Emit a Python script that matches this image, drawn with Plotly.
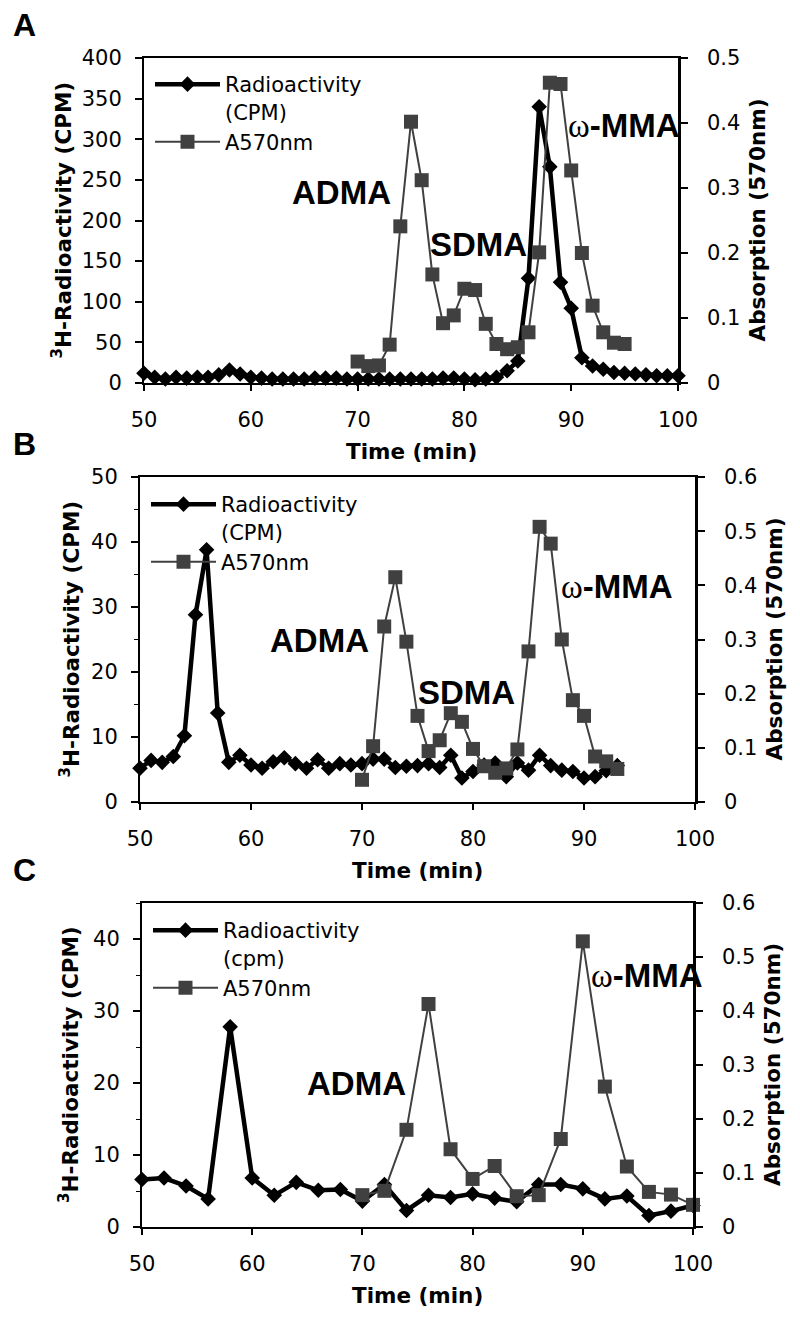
import plotly.graph_objects as go

# ---------------- data ----------------
# Panel A
a_time_radio = list(range(50, 101))
a_radio = [12, 7, 5, 7, 6, 7, 7, 10, 16, 11,
           7, 6, 5, 5, 5, 5, 6, 6, 6, 5,
           5, 5, 5, 5, 5, 5, 5, 5, 6, 6,
           5, 4, 5, 7, 15, 27, 129, 340, 266, 124,
           92, 31, 21, 17, 13, 12, 11, 10, 9, 9, 9]
a_time_abs = list(range(70, 96))
a_abs = [0.033, 0.026, 0.027, 0.059, 0.241, 0.402, 0.312, 0.167, 0.092, 0.104,
         0.145, 0.143, 0.091, 0.060, 0.052, 0.055, 0.078, 0.201, 0.462, 0.460,
         0.327, 0.200, 0.119, 0.078, 0.062, 0.060]

# Panel B
b_time_radio = list(range(50, 94))
b_radio = [5.2, 6.4, 6.1, 7.0, 10.2, 28.8, 38.8, 13.7, 6.1, 7.2,
           5.7, 5.2, 6.2, 6.8, 5.9, 5.2, 6.5, 5.2, 5.9, 5.7,
           5.9, 6.6, 6.6, 5.3, 5.5, 5.6, 5.9, 5.3, 7.2, 3.7,
           4.7, 5.7, 6.0, 3.9, 6.0, 4.9, 7.2, 5.6, 4.9, 4.7,
           3.7, 3.9, 4.8, 5.6]
b_time_abs = list(range(70, 94))
b_abs = [0.041, 0.103, 0.324, 0.415, 0.296, 0.159, 0.094, 0.114, 0.164, 0.148,
         0.098, 0.066, 0.054, 0.062, 0.097, 0.278, 0.508, 0.477, 0.300, 0.188,
         0.159, 0.084, 0.075, 0.061]

# Panel C
c_time_radio = list(range(50, 101, 2))
c_radio = [6.6, 6.8, 5.7, 3.9, 27.8, 6.8, 4.4, 6.2, 5.1, 5.2,
           3.6, 5.9, 2.3, 4.4, 4.1, 4.6, 4.0, 3.5, 5.9, 5.9,
           5.3, 3.9, 4.3, 1.6, 2.2, 3.0]
c_time_abs = list(range(70, 101, 2))
c_abs = [0.059, 0.067, 0.180, 0.413, 0.144, 0.089, 0.113, 0.057, 0.059, 0.163,
         0.529, 0.260, 0.112, 0.065, 0.060, 0.041]

x_ticks = [50, 60, 70, 80, 90, 100]
panel_letters = ["A", "B", "C"]
radio_names = ["Radioactivity<br>(CPM)", "Radioactivity<br>(CPM)", "Radioactivity<br>(cpm)"]
abs_name = "A570nm"
left_title = "<sup>3</sup>H-Radioactivity (CPM)"
right_title = "Absorption (570nm)"
x_title = "Time (min)"

# ---------------- layout helpers ----------------
W, H = 800, 1322
BLACK = "#000000"
GRAY = "#404040"
TICKFONT = dict(family="DejaVu Sans", size=21, color=BLACK)
TITLEFONT = dict(family="DejaVu Sans", size=21.5, color=BLACK, weight="bold")
LABELFONT = dict(family="Liberation Sans", size=33, color=BLACK, weight="bold")

# pixel boxes of the three plot areas: (left, right, top, bottom)
boxes = [(144, 678, 58, 383), (140, 695, 477, 802), (142, 693, 903, 1227)]
left_ranges = [[0, 400], [0, 50], [0, 45]]
left_dticks = [50, 10, 10]
left_minor = [None, 5, 5]
right_ranges = [[0, 0.5], [0, 0.6], [0, 0.6]]
legend_tops = [64, 484, 910]

fig = go.Figure()
layout = dict(template="none", width=W, height=H, autosize=False,
              margin=dict(l=0, r=0, t=0, b=0, pad=0),
              paper_bgcolor="white", plot_bgcolor="white",
              showlegend=True, annotations=[])

panels = [
    (a_time_radio, a_radio, a_time_abs, a_abs),
    (b_time_radio, b_radio, b_time_abs, b_abs),
    (c_time_radio, c_radio, c_time_abs, c_abs),
]

for i, (tr, r, ta, ab) in enumerate(panels):
    L, R, T, B = boxes[i]
    xd = [L / W, R / W]
    yd = [1 - B / H, 1 - T / H]
    xn = "xaxis" if i == 0 else f"xaxis{i+1}"
    xr = "x" if i == 0 else f"x{i+1}"
    yl_idx = 2 * i + 1
    yr_idx = 2 * i + 2
    yln = "yaxis" if yl_idx == 1 else f"yaxis{yl_idx}"
    ylr = "y" if yl_idx == 1 else f"y{yl_idx}"
    yrn = f"yaxis{yr_idx}"
    yrr = f"y{yr_idx}"
    leg = "legend" if i == 0 else f"legend{i+1}"

    layout[xn] = dict(domain=xd, anchor=ylr, range=[50, 100], tickvals=x_ticks,
                      showline=True, linecolor=BLACK, linewidth=2, mirror=True,
                      ticks="outside", ticklen=6, tickwidth=1.5, tickcolor=BLACK,
                      showgrid=False, zeroline=False, tickfont=TICKFONT,
                      ticklabelstandoff=11, automargin=False)
    ly = dict(domain=yd, anchor=xr, range=left_ranges[i], dtick=left_dticks[i],
              showline=True, linecolor=BLACK, linewidth=2,
              ticks="outside", ticklen=7, tickwidth=1.5, tickcolor=BLACK,
              showgrid=False, zeroline=False, tickfont=TICKFONT,
              ticklabelstandoff=9, automargin=False)
    if left_minor[i]:
        ly["minor"] = dict(dtick=left_minor[i], ticks="outside", ticklen=4,
                           tickwidth=1, tickcolor=BLACK, showgrid=False)
    layout[yln] = ly
    layout[yrn] = dict(overlaying=ylr, side="right", anchor=xr, range=right_ranges[i],
                       dtick=0.1, showline=True, linecolor=BLACK, linewidth=2.5,
                       ticks="outside", ticklen=7, tickwidth=1.5, tickcolor=BLACK,
                       showgrid=False, zeroline=False, tickfont=TICKFONT,
                       ticklabelstandoff=15, automargin=False)

    fig.add_trace(go.Scatter(x=tr, y=r, mode="lines+markers", name=radio_names[i],
                             xaxis=xr, yaxis=ylr, legend=leg, cliponaxis=False,
                             line=dict(color=BLACK, width=4.5),
                             marker=dict(symbol="diamond", size=12, color=BLACK)))
    fig.add_trace(go.Scatter(x=ta, y=ab, mode="lines+markers", name=abs_name,
                             xaxis=xr, yaxis=yrr, legend=leg, cliponaxis=False,
                             line=dict(color=GRAY, width=2),
                             marker=dict(symbol="square", size=14, color=GRAY)))

    layout[leg] = dict(x=(L + 6) / W, y=1 - legend_tops[i] / H, xref="paper", yref="paper",
                       xanchor="left", yanchor="top", bgcolor="rgba(0,0,0,0)",
                       font=dict(family="DejaVu Sans", size=21, color=BLACK),
                       itemwidth=65, valign="top", tracegroupgap=0)

    # panel letter
    layout["annotations"].append(dict(text=panel_letters[i], xref="paper", yref="paper",
                                      x=24 / W, y=1 - (T - 33) / H, showarrow=False,
                                      xanchor="center", yanchor="middle",
                                      font=dict(family="Liberation Sans", size=32,
                                                color=BLACK, weight="bold")))
    # axis titles
    layout["annotations"].append(dict(text=left_title, xref="paper", yref="paper",
                                      x=(62 + (0 if i == 0 else 7)) / W, y=1 - ((T + B) / 2) / H,
                                      textangle=-90, showarrow=False,
                                      xanchor="center", yanchor="middle", font=TITLEFONT))
    layout["annotations"].append(dict(text=right_title, xref="paper", yref="paper",
                                      x=(R + 79) / W, y=1 - ((T + B) / 2) / H,
                                      textangle=-90, showarrow=False,
                                      xanchor="center", yanchor="middle", font=TITLEFONT))
    layout["annotations"].append(dict(text=x_title, xref="paper", yref="paper",
                                      x=((L + R) / 2) / W, y=1 - (B + 68) / H,
                                      showarrow=False, xanchor="center", yanchor="middle",
                                      font=TITLEFONT))

# peak labels (data coordinates on the left axis of each panel)
omega = "<span style='font-family:Liberation Serif;font-weight:normal'>ω</span>-MMA"
peak_labels = [
    ("x", "y", 68.5, 235, "ADMA"),
    ("x", "y", 81.3, 171, "SDMA"),
    ("x", "y", 94.9, 317, omega),
    ("x2", "y3", 66.2, 24.9, "ADMA"),
    ("x2", "y3", 79.4, 16.9, "SDMA"),
    ("x2", "y3", 93.0, 33.1, omega),
    ("x3", "y5", 69.5, 20.0, "ADMA"),
    ("x3", "y5", 95.8, 35.0, omega),
]
for xr, yr, x, y, t in peak_labels:
    layout["annotations"].append(dict(text=t, xref=xr, yref=yr, x=x, y=y, showarrow=False,
                                      xanchor="center", yanchor="middle", font=LABELFONT))

fig.update_layout(**layout)
fig.write_html("out.html", config={"displayModeBar": False},
               post_script="document.body.style.margin='0';document.body.style.overflow='hidden';")
